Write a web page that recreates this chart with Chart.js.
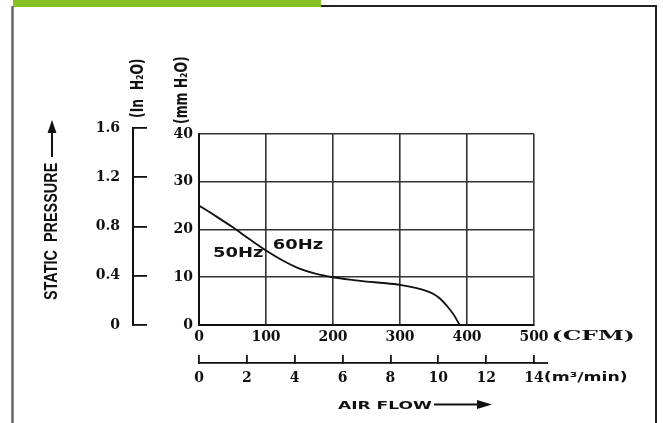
<!DOCTYPE html>
<html>
<head>
<meta charset="utf-8">
<script src="https://cdn.jsdelivr.net/npm/chart.js@4"></script>
<style>
  html, body { margin: 0; padding: 0; background: #fff; }
  canvas { display: block; }
</style>
</head>
<body>
<canvas id="fanCurve" width="663" height="423"></canvas>
<script>
// Air flow (CFM) vs static pressure (mm H2O)
const flowCfm = [0, 25, 50, 75, 100, 125, 150, 175, 200, 225, 250, 275, 300, 325, 340, 350, 360, 370, 380, 389];
const pressureMm = [25, 22.8, 20.5, 18.0, 15.6, 13.5, 11.8, 10.7, 10.0, 9.5, 9.1, 8.8, 8.4, 7.7, 7.1, 6.5, 5.5, 4.0, 2.2, 0];

// tick labels of the four axes
const cfmTicks = [0, 100, 200, 300, 400, 500];
const m3Ticks = [0, 2, 4, 6, 8, 10, 12, 14];
const mmTicks = [0, 10, 20, 30, 40];
const inchTicks = [0, 0.4, 0.8, 1.2, 1.6];

const yTitle = 'STATIC  PRESSURE';
const xTitle = 'AIR FLOW';
const inchUnit = '(In  H₂O)';
const mmUnit = '(mm H₂O)';
const cfmUnit = '(CFM)';
const m3Unit = '(m³/min)';
const curveLabels = [
    { text: '50Hz', x: 21, y: 15.0 },
    { text: '60Hz', x: 110, y: 16.7 }
];

const serifTick = { family: 'DejaVu Serif', weight: 'bold', size: 14 };
const ink = '#111';
const gridInk = '#333';

function useTicks(list) {
    return function(scale) {
        scale.ticks = list.map(v => ({ value: v }));
    };
}

function tickText(v) {
    return v === 0 ? '0' : (Number.isInteger(v) ? String(v) : v.toFixed(1));
}

// draw text squeezed/stretched along its own direction
function wideText(ctx, text, x, y, sx, sy, align) {
    ctx.save();
    ctx.translate(x, y);
    ctx.scale(sx, sy);
    ctx.textAlign = align;
    ctx.fillText(text, 0, 0);
    ctx.restore();
}

const decorPlugin = {
    id: 'decor',
    afterLayout(chart) {
        // the inch axis runs a little higher than the grid in the original
        const s = chart.scales.yIn;
        s.top = s.top - 6;
        s.configure();
    },
    beforeDraw(chart) {
        const ctx = chart.ctx;
        ctx.save();
        ctx.fillStyle = '#fff';
        ctx.fillRect(0, 0, chart.width, chart.height);
        // green tab and page frame
        ctx.fillStyle = '#86c226';
        ctx.fillRect(13, 0, 308, 7);
        ctx.strokeStyle = '#222';
        ctx.lineWidth = 2;
        ctx.beginPath();
        ctx.moveTo(321, 6);
        ctx.lineTo(656, 6);
        ctx.lineTo(656, chart.height);
        ctx.stroke();
        ctx.strokeStyle = '#666';
        ctx.lineWidth = 2.5;
        ctx.beginPath();
        ctx.moveTo(12.5, 6);
        ctx.lineTo(12.5, chart.height);
        ctx.stroke();
        ctx.restore();
    },
    afterDraw(chart) {
        const ctx = chart.ctx;
        const x = chart.scales.x, y = chart.scales.y, xm = chart.scales.xM;
        ctx.save();
        ctx.fillStyle = ink;
        ctx.strokeStyle = ink;
        ctx.textBaseline = 'middle';

        // curve labels
        ctx.font = 'bold 14px "DejaVu Sans"';
        curveLabels.forEach(l => {
            wideText(ctx, l.text, x.getPixelForValue(l.x), y.getPixelForValue(l.y), 1.28, 1, 'left');
        });

        // unit after the last CFM tick
        ctx.font = 'bold 14px "DejaVu Serif"';
        const lastCfm = cfmTicks[cfmTicks.length - 1];
        const cfmRight = x.getPixelForValue(lastCfm) + ctx.measureText(tickText(lastCfm)).width / 2 + 3;
        ctx.font = 'bold 13px "DejaVu Serif"';
        wideText(ctx, cfmUnit, cfmRight, x.top + 12, 1.8, 1, 'left');

        // unit after the last m3/min tick, plus the axis line running on
        ctx.font = 'bold 14px "DejaVu Serif"';
        const lastM3 = m3Ticks[m3Ticks.length - 1];
        const m3Right = xm.getPixelForValue(lastM3) + ctx.measureText(tickText(lastM3)).width / 2;
        ctx.font = 'bold 13px "DejaVu Sans"';
        wideText(ctx, m3Unit, m3Right, xm.top + 15, 1.33, 1, 'left');
        ctx.lineWidth = 1.8;
        ctx.beginPath();
        ctx.moveTo(xm.right, xm.top);
        ctx.lineTo(xm.right + 14, xm.top);
        ctx.stroke();

        // AIR FLOW ---->
        ctx.font = 'bold 11px "DejaVu Sans"';
        ctx.textBaseline = 'alphabetic';
        wideText(ctx, xTitle, 338, 408.5, 1.55, 1, 'left');
        ctx.lineWidth = 2;
        ctx.beginPath();
        ctx.moveTo(434, 404.5);
        ctx.lineTo(480, 404.5);
        ctx.stroke();
        ctx.beginPath();
        ctx.moveTo(492, 404.5);
        ctx.lineTo(477, 400);
        ctx.lineTo(477, 409);
        ctx.closePath();
        ctx.fill();

        // STATIC PRESSURE ---->, rotated
        ctx.save();
        ctx.translate(52, 300);
        ctx.rotate(-Math.PI / 2);
        ctx.font = 'bold 14px "Liberation Sans"';
        ctx.textBaseline = 'middle';
        wideText(ctx, yTitle, 0, 0, 1.03, 1.3, 'left');
        ctx.lineWidth = 2;
        ctx.beginPath();
        ctx.moveTo(143, 0);
        ctx.lineTo(170, 0);
        ctx.stroke();
        ctx.beginPath();
        ctx.moveTo(180, 0);
        ctx.lineTo(167, -4.5);
        ctx.lineTo(167, 4.5);
        ctx.closePath();
        ctx.fill();
        ctx.restore();

        // unit labels above the two pressure axes
        ctx.font = 'bold 13px "DejaVu Sans"';
        ctx.textBaseline = 'middle';
        [[inchUnit, 139, 118], [mmUnit, 183, 124]].forEach(([t, px, py]) => {
            ctx.save();
            ctx.translate(px, py);
            ctx.rotate(-Math.PI / 2);
            wideText(ctx, t, 0, 0, 0.95, 1.3, 'left');
            ctx.restore();
        });
        ctx.restore();
    }
};

const canvas = document.getElementById('fanCurve');
new Chart(canvas.getContext('2d'), {
    type: 'line',
    data: {
        datasets: [{
            data: flowCfm.map((f, i) => ({ x: f, y: pressureMm[i] })),
            borderColor: ink,
            borderWidth: 1.8,
            pointRadius: 0,
            cubicInterpolationMode: 'monotone',
            fill: false
        }]
    },
    options: {
        responsive: false,
        animation: false,
        devicePixelRatio: 1,
        layout: { padding: { left: 13, right: 129, top: 134, bottom: 30 } },
        plugins: {
            legend: { display: false },
            tooltip: { enabled: false }
        },
        scales: {
            x: {
                type: 'linear',
                position: 'bottom',
                weight: 0,
                min: cfmTicks[0],
                max: cfmTicks[cfmTicks.length - 1],
                afterBuildTicks: useTicks(cfmTicks),
                afterFit: s => { s.height = 38; },
                grid: { color: gridInk, lineWidth: 1.6, drawTicks: false },
                border: { display: true, color: ink, width: 2 },
                ticks: { font: serifTick, color: ink, padding: 4, maxRotation: 0, callback: tickText }
            },
            xM: {
                type: 'linear',
                position: 'bottom',
                weight: 1,
                min: m3Ticks[0],
                max: m3Ticks[m3Ticks.length - 1],
                afterBuildTicks: useTicks(m3Ticks),
                afterFit: s => { s.height = 30; },
                grid: { drawOnChartArea: false, color: ink, lineWidth: 1.8, tickLength: -8 },
                border: { display: true, color: ink, width: 1.8 },
                ticks: { font: serifTick, color: ink, padding: 15, maxRotation: 0, callback: tickText }
            },
            y: {
                type: 'linear',
                position: 'left',
                weight: 0,
                min: mmTicks[0],
                max: mmTicks[mmTicks.length - 1],
                afterBuildTicks: useTicks(mmTicks),
                afterFit: s => { s.width = 66; },
                grid: { color: gridInk, lineWidth: 1.6, drawTicks: false },
                border: { display: true, color: ink, width: 2 },
                ticks: { font: serifTick, color: ink, padding: 6, callback: tickText }
            },
            yIn: {
                type: 'linear',
                position: 'left',
                weight: 1,
                min: inchTicks[0],
                max: inchTicks[inchTicks.length - 1],
                afterBuildTicks: useTicks(inchTicks),
                afterFit: s => { s.width = 120; },
                grid: { drawOnChartArea: false, color: ink, lineWidth: 1.8, tickLength: -14 },
                border: { display: true, color: ink, width: 2 },
                ticks: { font: serifTick, color: ink, padding: 27, callback: tickText }
            }
        }
    },
    plugins: [decorPlugin]
});
</script>
</body>
</html>
